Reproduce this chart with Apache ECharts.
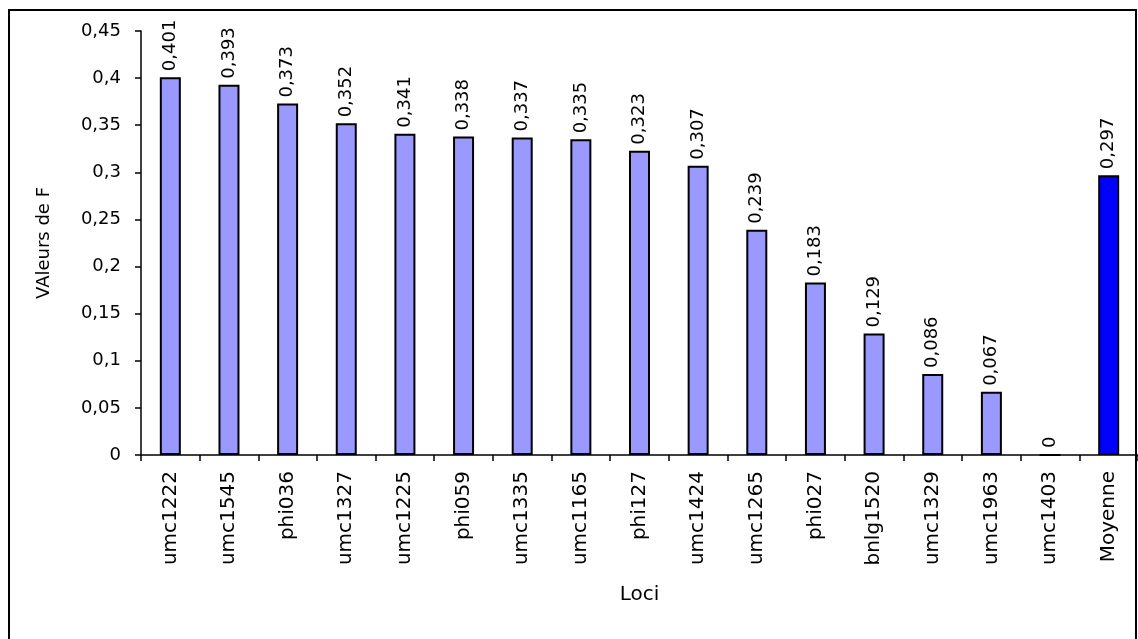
<!DOCTYPE html>
<html>
<head>
<meta charset="utf-8">
<script src="https://cdn.jsdelivr.net/npm/echarts@6/dist/echarts.min.js"></script>
<style>
  html, body { margin: 0; padding: 0; background: #fff; }
  #chart { width: 1138px; height: 639px; }
</style>
</head>
<body>
<div id="chart"></div>
<script>
// Loci and their F values (last entry is the mean)
const loci = ['umc1222', 'umc1545', 'phi036', 'umc1327', 'umc1225', 'phi059', 'umc1335', 'umc1165',
  'phi127', 'umc1424', 'umc1265', 'phi027', 'bnlg1520', 'umc1329', 'umc1963', 'umc1403', 'Moyenne'];
const valeursF = [0.401, 0.393, 0.373, 0.352, 0.341, 0.338, 0.337, 0.335,
  0.323, 0.307, 0.239, 0.183, 0.129, 0.086, 0.067, 0, 0.297];
const yTicks = { min: 0, max: 0.45, interval: 0.05 };

const FONT = 'DejaVu Sans';
const frDec = v => String(+(+v).toFixed(3)).replace('.', ',');

const chart = echarts.init(document.getElementById('chart'));
chart.setOption({
  animation: false,
  backgroundColor: '#ffffff',
  textStyle: { fontFamily: FONT, color: '#000' },
  graphic: [{
    type: 'rect',
    shape: { x: 9, y: 10, width: 1127, height: 660 },
    style: { fill: 'none', stroke: '#000', lineWidth: 2 },
    silent: true
  }],
  grid: { left: 141, right: 0, top: 31, bottom: 184 },
  xAxis: {
    type: 'category',
    data: loci,
    name: 'Loci',
    nameLocation: 'middle',
    nameGap: 130,
    nameTextStyle: { fontFamily: FONT, fontSize: 20, color: '#000' },
    axisLine: { lineStyle: { color: '#000', width: 1.5 } },
    axisTick: { show: true, length: 6, lineStyle: { color: '#000', width: 1.5 } },
    axisLabel: { rotate: 90, margin: 16, fontFamily: FONT, fontSize: 20, color: '#000', interval: 0 }
  },
  yAxis: {
    type: 'value',
    min: yTicks.min,
    max: yTicks.max,
    interval: yTicks.interval,
    name: 'VAleurs de F',
    nameLocation: 'middle',
    nameGap: 88,
    nameTextStyle: { fontFamily: FONT, fontSize: 18, color: '#000' },
    splitLine: { show: false },
    axisLine: { show: true, lineStyle: { color: '#000', width: 1.5 } },
    axisTick: { show: true, length: 6, lineStyle: { color: '#000', width: 1.5 } },
    axisLabel: { margin: 20, fontFamily: FONT, fontSize: 18, color: '#000', formatter: frDec }
  },
  series: [{
    type: 'bar',
    barWidth: 21,
    data: valeursF.map((v, i) => ({
      value: v,
      itemStyle: { color: loci[i] === 'Moyenne' ? '#0000ff' : '#9999ff' }
    })),
    itemStyle: { borderColor: '#000', borderWidth: 2 },
    label: {
      show: true,
      position: 'top',
      rotate: 90,
      align: 'left',
      verticalAlign: 'middle',
      distance: 6,
      fontFamily: FONT,
      fontSize: 18,
      color: '#000',
      formatter: p => frDec(p.value)
    }
  }]
});
</script>
</body>
</html>
